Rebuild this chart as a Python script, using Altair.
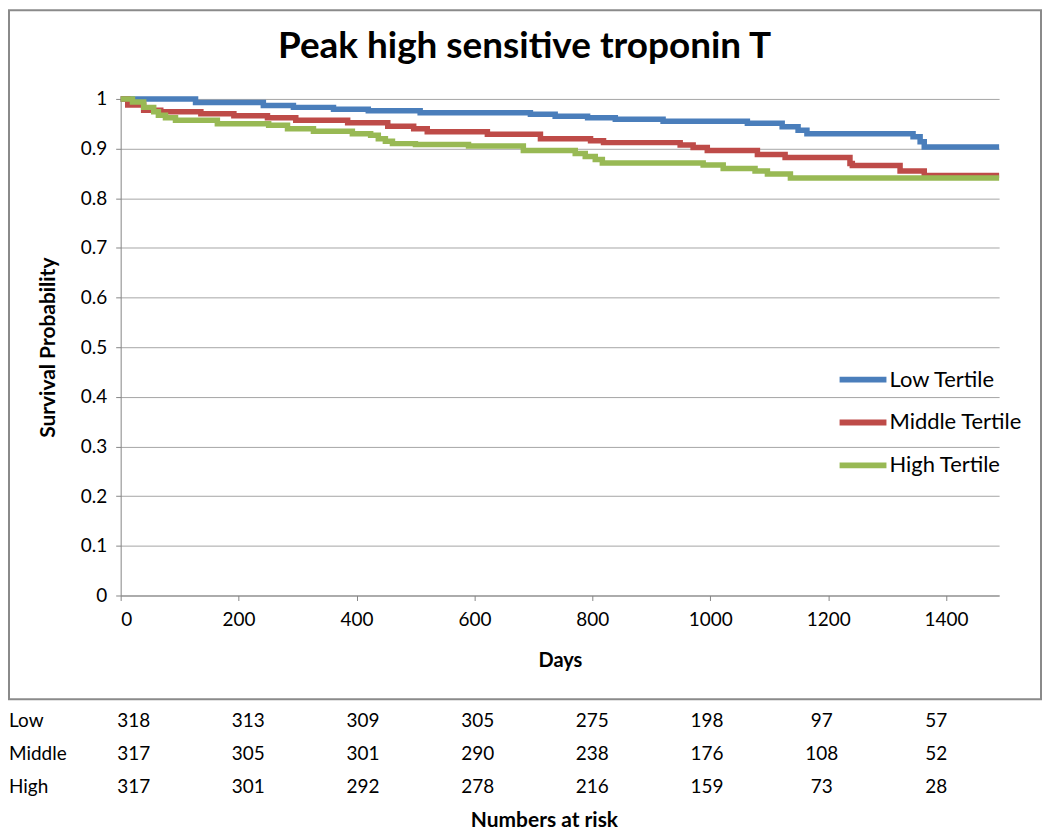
import altair as alt
import pandas as pd

# ---------------- data ----------------
series = ["Low Tertile", "Middle Tertile", "High Tertile"]
colors = ["#4A7EBB", "#BE4B48", "#98B954"]

low_days = [0, 127, 242, 293, 361, 420, 508, 695, 737, 792, 839, 920, 1063, 1122, 1149, 1164, 1344, 1356, 1363, 1490]
low_surv = [1.0, 0.993, 0.987, 0.983, 0.979, 0.976, 0.972, 0.969, 0.965, 0.962, 0.959, 0.955, 0.951, 0.944, 0.937, 0.930, 0.924, 0.914, 0.903, 0.903]

mid_days = [0, 12, 39, 68, 136, 192, 249, 297, 385, 453, 497, 520, 622, 712, 797, 819, 949, 971, 995, 1080, 1127, 1237, 1241, 1322, 1363, 1490]
mid_surv = [1.0, 0.988, 0.977, 0.974, 0.970, 0.966, 0.962, 0.957, 0.952, 0.945, 0.940, 0.934, 0.929, 0.920, 0.916, 0.912, 0.907, 0.902, 0.896, 0.888, 0.882, 0.870, 0.866, 0.855, 0.846, 0.846]

high_days = [0, 20, 39, 56, 64, 76, 93, 164, 251, 283, 327, 393, 424, 437, 449, 461, 500, 590, 683, 771, 788, 805, 817, 988, 1022, 1076, 1097, 1136, 1490]
high_surv = [1.0, 0.994, 0.983, 0.974, 0.967, 0.962, 0.957, 0.950, 0.947, 0.940, 0.935, 0.930, 0.927, 0.920, 0.915, 0.910, 0.908, 0.905, 0.896, 0.890, 0.884, 0.878, 0.871, 0.867, 0.860, 0.855, 0.849, 0.841, 0.841]

x_ticks = [0, 200, 400, 600, 800, 1000, 1200, 1400]
y_ticks = [0, 0.1, 0.2, 0.3, 0.4, 0.5, 0.6, 0.7, 0.8, 0.9, 1.0]

risk_rows = ["Low", "Middle", "High"]
risk_low = [318, 313, 309, 305, 275, 198, 97, 57]
risk_mid = [317, 305, 301, 290, 238, 176, 108, 52]
risk_high = [317, 301, 292, 278, 216, 159, 73, 28]

title_text = "Peak high sensitive troponin T"
risk_title = "Numbers at risk"

# ---------------- tables ----------------
curves = pd.concat([
    pd.DataFrame({"day": low_days, "surv": low_surv, "group": series[0]}),
    pd.DataFrame({"day": mid_days, "surv": mid_surv, "group": series[1]}),
    pd.DataFrame({"day": high_days, "surv": high_surv, "group": series[2]}),
])

risk_rows_data = []
for row, vals in zip(risk_rows, [risk_low, risk_mid, risk_high]):
    for i, v in enumerate(vals):
        risk_rows_data.append({"row": row, "col": i, "n": v})
risk_df = pd.DataFrame(risk_rows_data)
label_df = pd.DataFrame({"row": risk_rows})

FONT = "Lato"
GRID = "#A6A6A6"
AX = "#868686"

W, H = 881, 498

x_enc = alt.X("day:Q",
              scale=alt.Scale(domain=[0, 1490], nice=False, zero=True),
              axis=alt.Axis(values=x_ticks, format="d", title="Days", grid=False,
                            domainColor=AX, tickColor=AX, tickSize=5,
                            labelFont=FONT, labelFontSize=19, labelColor="black",
                            labelPadding=10,
                            titleFont=FONT, titleFontSize=20, titleFontWeight="bold",
                            titleColor="black", titleY=65, titleBaseline="middle"))
y_enc = alt.Y("surv:Q",
              scale=alt.Scale(domain=[0, 1], nice=False),
              axis=alt.Axis(values=y_ticks, format=".1~f", title="Survival Probability",
                            grid=True, gridColor=GRID, gridWidth=1,
                            domainColor=AX, tickColor=AX, tickSize=5,
                            labelFont=FONT, labelFontSize=19, labelColor="black",
                            labelPadding=9,
                            titleFont=FONT, titleFontSize=21, titleFontWeight="bold",
                            titleColor="black", titleX=-72, titleY=H / 2,
                            titleAngle=270, titleBaseline="middle", titleAlign="center"))
c_enc = alt.Color("group:N",
                  scale=alt.Scale(domain=series, range=colors),
                  legend=alt.Legend(title=None, orient="none", legendX=718, legendY=255,
                                    symbolType="stroke", symbolSize=2209, symbolStrokeWidth=6,
                                    labelFont=FONT, labelFontSize=22, labelColor="black",
                                    labelOffset=0, rowPadding=4))


def line_layer(name):
    return (alt.Chart(curves)
            .transform_filter(alt.datum.group == name)
            .mark_line(interpolate="step-after", strokeWidth=5.5)
            .encode(x=x_enc, y=y_enc, color=c_enc))


lines = alt.layer(*[line_layer(s) for s in series])

blank = alt.Data(values=[{}])

border = alt.Chart(blank).mark_rect(fillOpacity=0, stroke="#8A8A8A", strokeWidth=2).encode(
    x=alt.value(-112), x2=alt.value(923), y=alt.value(-89), y2=alt.value(602))

title = alt.Chart(blank).mark_text(font=FONT, fontSize=37, fontWeight="bold", color="black",
                                   baseline="middle", align="center").encode(
    x=alt.value(405), y=alt.value(-52), text=alt.value(title_text))

table = alt.Chart(risk_df).mark_text(font=FONT, fontSize=19, color="black",
                                     baseline="middle", align="center").encode(
    x=alt.X("col:Q", scale=alt.Scale(domain=[0, 7], range=[13, 818]), axis=None),
    y=alt.Y("row:N", scale=alt.Scale(type="point", domain=risk_rows, range=[624, 690], padding=0), axis=None),
    text="n:Q")

row_labels = alt.Chart(label_df).mark_text(font=FONT, fontSize=19, color="black",
                                           baseline="middle", align="left").encode(
    x=alt.value(-112),
    y=alt.Y("row:N", scale=alt.Scale(type="point", domain=risk_rows, range=[624, 690], padding=0), axis=None),
    text="row:N")

risk_label = alt.Chart(blank).mark_text(font=FONT, fontSize=21, fontWeight="bold", color="black",
                                        baseline="middle", align="center").encode(
    x=alt.value(425), y=alt.value(724), text=alt.value(risk_title))

chart = (alt.layer(border, title, lines, table, row_labels, risk_label)
         .resolve_scale(x="independent", y="independent")
         .properties(width=W, height=H, padding=0, background="white")
         .configure_view(stroke=None))

chart.save("out.html", embed_options={"renderer": "svg", "actions": False})
